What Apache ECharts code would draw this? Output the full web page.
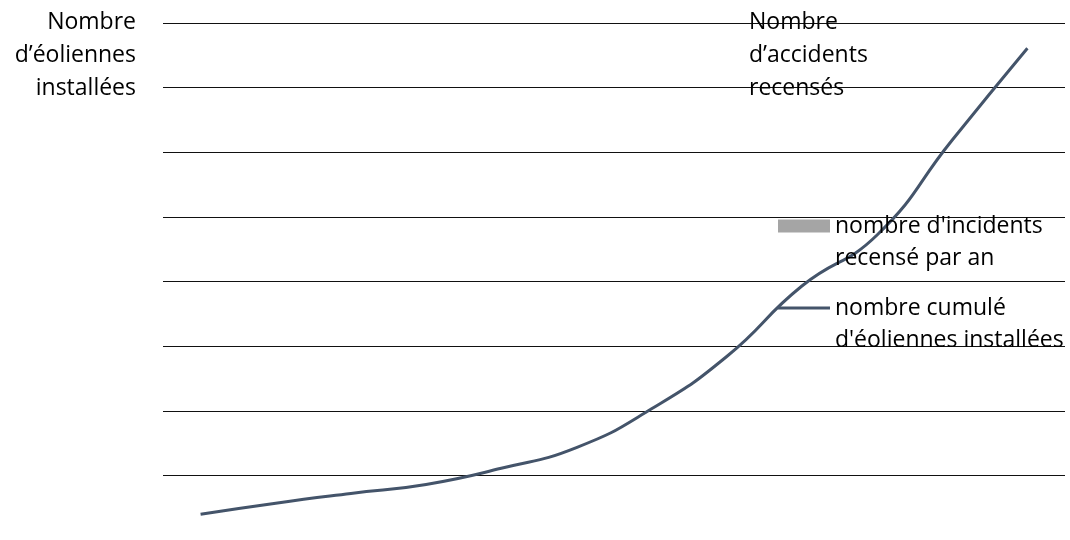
<!DOCTYPE html>
<html>
<head>
<meta charset="utf-8">
<script src="https://cdn.jsdelivr.net/npm/echarts@6/dist/echarts.min.js"></script>
<style>html,body{margin:0;padding:0;background:#fff;}#c{width:1070px;height:540px;}</style>
</head>
<body>
<div id="c"></div>
<script>
const years = ['2000','2001','2002','2003','2004','2005','2006','2007','2008','2009','2010','2011'];
const incidents = [null,null,null,null,null,null,null,null,null,null,null,null];
const eoliennesCumul = [200,285,360,430,555,715,1015,1420,1965,2360,3095,3805];
const leftTitle = "Nombre\nd’éoliennes\ninstallées";
const rightTitle = "Nombre\nd’accidents\nrecensés";
const barName = "nombre d'incidents\nrecensé par an";
const lineName = "nombre cumulé\nd'éoliennes installées";

const FONT = 'Open Sans';
const FS = 23;
// legend icons: visible part at top, invisible specks extend the box so the
// 2-line label's first line lines up with the icon
const barIcon = 'path://M0,0 L52,0 L52,13 L0,13 Z M0,44.95 L0.05,44.95 L0.05,45 Z';
const lineIcon = 'path://M0,5 L52,5 L52,8 L0,8 Z M0,0 L0.05,0 L0.05,0.05 Z M0,44.95 L0.05,44.95 L0.05,45 Z';

const chart = echarts.init(document.getElementById('c'), null, {renderer:'canvas'});
chart.setOption({
  animation:false,
  backgroundColor:'#fff',
  title:[
    {text:leftTitle, left:136, top:6, padding:0, textAlign:'right',
     textStyle:{fontFamily:FONT,fontSize:FS,fontWeight:'normal',color:'#000',lineHeight:33}},
    {text:rightTitle, left:749, top:6, padding:0,
     textStyle:{fontFamily:FONT,fontSize:FS,fontWeight:'normal',color:'#000',lineHeight:33}}
  ],
  legend:[
    {data:[{name:barName, icon:barIcon}], orient:'vertical', left:778, top:210, padding:0,
     itemWidth:52, itemHeight:45, itemGap:0, symbolKeepAspect:true,
     itemStyle:{borderWidth:0},
     textStyle:{fontFamily:FONT,fontSize:FS,color:'#000',lineHeight:32}},
    {data:[{name:lineName, icon:lineIcon}], orient:'vertical', left:778, top:292, padding:0,
     itemWidth:52, itemHeight:45, itemGap:0, symbolKeepAspect:true,
     itemStyle:{borderWidth:0},
     textStyle:{fontFamily:FONT,fontSize:FS,color:'#000',lineHeight:32}}
  ],
  grid:{left:163, right:5, top:23, bottom:-2},
  xAxis:{type:'category', data:years, boundaryGap:true,
    axisLine:{show:false}, axisTick:{show:false}, axisLabel:{show:false}, splitLine:{show:false}},
  yAxis:[
    {type:'value', min:0, max:4000, interval:500,
     axisLine:{show:false}, axisTick:{show:false}, axisLabel:{show:false},
     splitLine:{show:true, lineStyle:{color:'#111', width:1}}},
    {type:'value', min:0, max:80, interval:10, position:'right',
     axisLine:{show:false}, axisTick:{show:false}, axisLabel:{show:false}, splitLine:{show:false}}
  ],
  series:[
    {name:barName, type:'bar', yAxisIndex:1, data:incidents, itemStyle:{color:'#A5A5A5'}},
    {name:lineName, type:'line', yAxisIndex:0, data:eoliennesCumul, smooth:true,
     symbol:'none', lineStyle:{color:'#44546A', width:3}, itemStyle:{color:'#44546A'}}
  ]
});
</script>
</body>
</html>
